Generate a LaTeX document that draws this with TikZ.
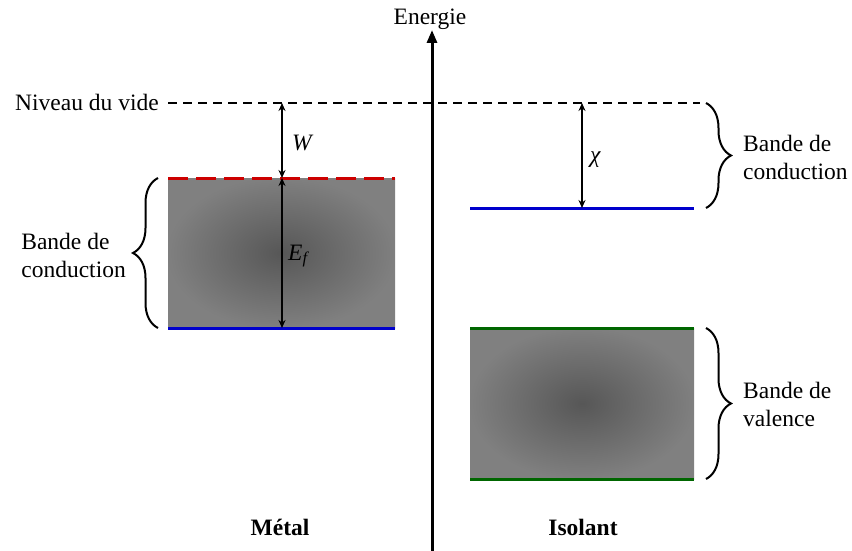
\documentclass[tikz,border=0pt]{standalone}
\usepackage{fontspec}
\setmainfont{Liberation Serif}
\usetikzlibrary{arrows.meta,decorations.pathreplacing}
\begin{document}
\begin{tikzpicture}[x=1pt,y=-1pt,
  lbl/.style={font=\fontsize{23.5}{28}\selectfont, inner sep=0pt},
  blbl/.style={lbl, align=left},
  dimarrow/.style={line width=1.8pt, {Stealth[length=8pt,width=7pt]}-{Stealth[length=8pt,width=7pt]}},
  bracedeco/.style={line width=2pt, decorate, decoration={brace, amplitude=25pt, aspect=0.5}},
  band/.style={line width=3pt}]
\useasboundingbox (0,0) rectangle (852,551);
% bands
\shade[inner color=black!66, outer color=black!50] (168,178) rectangle (395,328);
\shade[inner color=black!66, outer color=black!50] (470,328) rectangle (694,479);
% vacuum level
\node[lbl, anchor=east] (vide) at (159,102) {Niveau du vide};
\draw[line width=2.4pt, dash pattern=on 9pt off 6pt] (168,103) -- (700,103);
% energy axis
\coordinate (axbot) at (432,551);
\node[lbl, anchor=south] (energie) at (430,30) {Energie};
\draw[line width=3pt, -{Triangle[length=13pt,width=10pt]}] (axbot) -- (432,30);
% metal
\draw[band, red!80!black, dash pattern=on 20pt off 8pt] (168,178) -- (395,178);
\draw[band, blue!80!black] (168,328) -- (395,328);
\coordinate (wtop) at (282,103);
\coordinate (wbot) at (282,178);
\coordinate (ebot) at (282,328);
\draw[dimarrow] (wtop) -- (wbot);
\draw[dimarrow] (wbot) -- (ebot);
\node[lbl, anchor=west] (W) at (292,143) {\textit{W}};
\node[lbl, anchor=west] (Ef) at (288,256) {\textit{E\textsubscript{f}}};
\draw[bracedeco] (158,328) -- (158,178);
\node[blbl, anchor=east] (mcb) at (126,255) {Bande de\\conduction};
% insulator
\draw[band, blue!80!black] (470,208) -- (694,208);
\draw[band, green!40!black] (470,328) -- (694,328);
\draw[band, green!40!black] (470,479) -- (694,479);
\coordinate (ctop) at (582,103);
\coordinate (cbot) at (582,208);
\draw[dimarrow] (ctop) -- (cbot);
\node[lbl, anchor=west] (chi) at (590,160) {\textit{χ}};
\draw[bracedeco] (706,103) -- (706,208);
\node[blbl, anchor=west] (icb) at (743,157) {Bande de\\conduction};
\draw[bracedeco] (706,328) -- (706,479);
\node[blbl, anchor=west] (ivb) at (743,404) {Bande de\\valence};
% titles
\node[lbl, font=\fontsize{23.5}{28}\selectfont\bfseries] (metal) at (280,527) {Métal};
\node[lbl, font=\fontsize{23.5}{28}\selectfont\bfseries] (isolant) at (583,527) {Isolant};
\end{tikzpicture}
\end{document}
